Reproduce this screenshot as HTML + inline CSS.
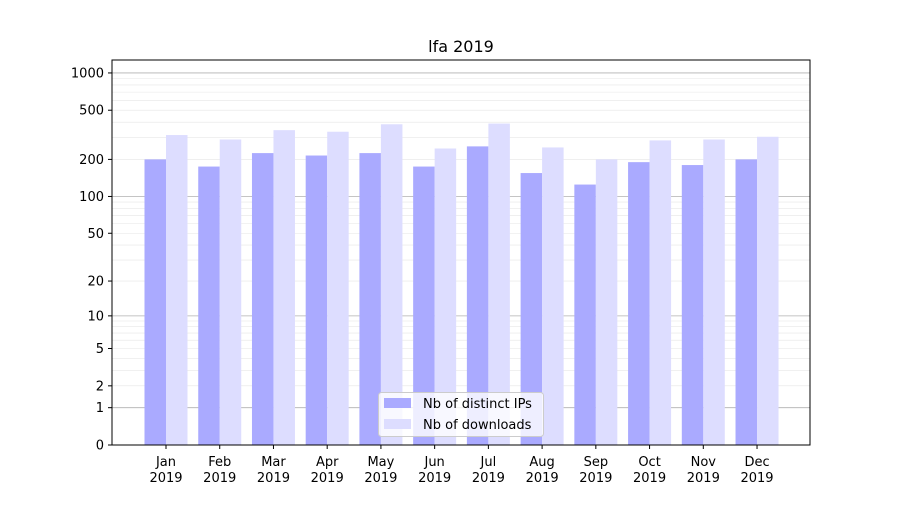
<!DOCTYPE html>
<html><head><meta charset="utf-8"><style>
body{margin:0;background:#fff;}
svg text{font-family:"DejaVu Sans","Liberation Sans",sans-serif;fill:#000;}
</style></head><body>
<svg id="chart" width="900" height="500" xmlns="http://www.w3.org/2000/svg">
<rect width="900" height="500" fill="#fff"/>
<text x="461" y="52" font-size="16" text-anchor="middle">lfa 2019</text>
<g id="grid"></g>
<g id="bars"></g>
<rect x="112" y="60" width="698" height="385" fill="none" stroke="#000" stroke-width="1"/>
<g id="axes"></g>
<g>
<rect x="378.5" y="392.5" width="165" height="44" rx="3" fill="#fff" fill-opacity="0.8" stroke="#ccc"/>
<rect x="384" y="398" width="27" height="10" fill="#aaaaff"/>
<text x="423" y="408" font-size="13">Nb of distinct IPs</text>
<rect x="384" y="419" width="27" height="10" fill="#ddddff"/>
<text x="423" y="429" font-size="13">Nb of downloads</text>
</g>
</svg>
<script>
const months = ["Jan","Feb","Mar","Apr","May","Jun","Jul","Aug","Sep","Oct","Nov","Dec"];
const ips = [200,175,225,215,225,175,255,155,125,190,180,200];
const downloads = [315,290,345,335,385,245,390,250,200,285,290,305];
const yTicks = [0,1,2,5,10,20,50,100,200,500,1000];
const NS="http://www.w3.org/2000/svg";
function y(v){return 445-124*Math.log10(v+1);}
function xc(i){return 166+i*53.73;}
function mk(tag,attrs,parent){const e=document.createElementNS(NS,tag);for(const k in attrs)e.setAttribute(k,attrs[k]);parent.appendChild(e);return e;}
const grid=document.getElementById('grid'),bars=document.getElementById('bars'),axes=document.getElementById('axes');
// minor grid
[1,10,100,1000].forEach(d=>{for(let m=1;m<10;m++){const v=d*m;if(v>1300)return;const yy=y(v);
const l=mk('line',{x1:112,x2:810,y1:yy,y2:yy,stroke:m===1?'#b0b0b0':'#e6e6e6','stroke-width':m===1?0.8:0.6},grid);

}});
months.forEach((m,i)=>{
const a=mk('rect',{x:xc(i)-21.5,y:y(ips[i]),width:21.5,height:445-y(ips[i]),fill:'#aaaaff'},bars);


const b=mk('rect',{x:xc(i),y:y(downloads[i]),width:21.5,height:445-y(downloads[i]),fill:'#ddddff'},bars);


const t=mk('line',{x1:xc(i),x2:xc(i),y1:445,y2:449,stroke:'#000'},axes);


const tx=mk('text',{x:xc(i),y:466,'font-size':13,'text-anchor':'middle'},axes);
tx.textContent=m;


const ty=mk('text',{x:xc(i),y:482,'font-size':13,'text-anchor':'middle'},axes);
ty.textContent='2019';


});
yTicks.forEach(v=>{const yy=y(v);
const t=mk('line',{x1:108,x2:112,y1:yy,y2:yy,stroke:'#000'},axes);


const tx=mk('text',{x:104,y:yy+4.5,'font-size':13,'text-anchor':'end'},axes);
tx.textContent=v;


});
</script>
</body></html>
